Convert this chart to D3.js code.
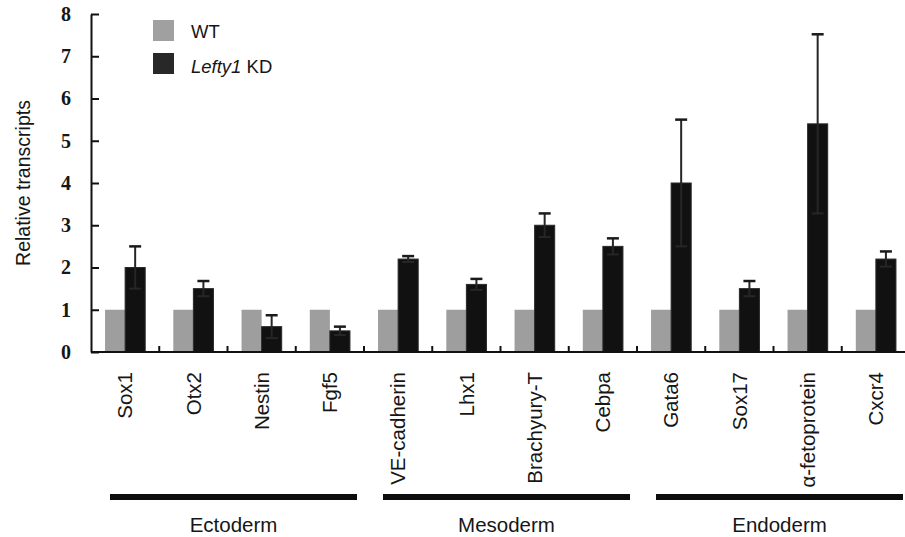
<!DOCTYPE html>
<html>
<head>
<meta charset="utf-8">
<script src="https://cdn.jsdelivr.net/npm/d3@7"></script>
<style>
  body { margin: 0; background: #fff; }
  text { font-family: Arial, "Liberation Sans", sans-serif; fill: #161616; }
</style>
</head>
<body>
<div class="chart"></div>
<script>
// data
const genes = ['Sox1', 'Otx2', 'Nestin', 'Fgf5', 'VE-cadherin', 'Lhx1', 'Brachyury-T', 'Cebpa',
               'Gata6', 'Sox17', 'α-fetoprotein', 'Cxcr4'];
const wt = [1, 1, 1, 1, 1, 1, 1, 1, 1, 1, 1, 1];
const kd = [2.0, 1.5, 0.6, 0.5, 2.2, 1.6, 3.0, 2.5, 4.0, 1.5, 5.4, 2.2];
const kdErr = [0.5, 0.18, 0.27, 0.1, 0.07, 0.13, 0.28, 0.19, 1.5, 0.18, 2.12, 0.18];
const yTicks = [0, 1, 2, 3, 4, 5, 6, 7, 8];
const germLayers = [{ name: 'Ectoderm', first: 'Sox1', last: 'Fgf5' },
                    { name: 'Mesoderm', first: 'VE-cadherin', last: 'Cebpa' },
                    { name: 'Endoderm', first: 'Gata6', last: 'Cxcr4' }];
const series = [{ key: 'WT', label: 'WT', color: '#9e9e9e', swatch: '#a0a0a0' },
                { key: 'KD', label: 'KD', color: '#111111', swatch: '#282828' }];

const width = 905, height = 537;

const svg = d3.select('.chart').append('svg')
  .attr('width', width)
  .attr('height', height);

const x = d3.scaleBand().domain(genes).range([91, 910]).paddingInner(0).paddingOuter(0);
const xSub = d3.scaleBand().domain(series.map(s => s.key)).range([0, x.bandwidth()]).paddingOuter(0.7);
const y = d3.scaleLinear().domain([0, 8]).range([352, 14]);

// y axis, ticks pointing into the plot
const yAxis = svg.append('g')
  .attr('transform', 'translate(91,0)')
  .call(d3.axisLeft(y).tickValues(yTicks).tickSizeInner(-8).tickSizeOuter(0).tickPadding(20));
yAxis.select('.domain').attr('stroke', '#111').attr('stroke-width', 2);
yAxis.selectAll('.tick line').attr('stroke', '#111').attr('stroke-width', 2);
yAxis.selectAll('.tick text')
  .style('font-family', '"Liberation Serif", "Times New Roman", serif')
  .style('font-weight', 'bold')
  .style('font-size', '20px')
  .attr('fill', '#1a1a1a');

svg.append('text')
  .attr('transform', 'translate(25,183) rotate(-90)')
  .attr('text-anchor', 'middle')
  .attr('dominant-baseline', 'middle')
  .style('font-size', '19.5px')
  .text('Relative transcripts');

// bars
const groups = svg.append('g').selectAll('g')
  .data(genes)
  .join('g')
  .attr('transform', d => `translate(${x(d)},0)`);

groups.append('rect')
  .attr('x', xSub('WT'))
  .attr('y', (d, i) => y(wt[i]))
  .attr('width', xSub.bandwidth())
  .attr('height', (d, i) => y(0) - y(wt[i]))
  .attr('fill', series[0].color);

groups.append('rect')
  .attr('x', xSub('KD'))
  .attr('y', (d, i) => y(kd[i]))
  .attr('width', xSub.bandwidth())
  .attr('height', (d, i) => y(0) - y(kd[i]))
  .attr('fill', series[1].color)
  .attr('stroke', '#2a2a2a')
  .attr('stroke-width', 1);

// error bars on the knock-down series
const cx = xSub('KD') + xSub.bandwidth() / 2;
groups.append('line')
  .attr('x1', cx).attr('x2', cx)
  .attr('y1', (d, i) => y(kd[i] + kdErr[i]))
  .attr('y2', (d, i) => y(kd[i] - kdErr[i]))
  .attr('stroke', '#262626').attr('stroke-width', 2);
groups.append('line')
  .attr('x1', cx - 6).attr('x2', cx + 6)
  .attr('y1', (d, i) => y(kd[i] + kdErr[i]))
  .attr('y2', (d, i) => y(kd[i] + kdErr[i]))
  .attr('stroke', '#1a1a1a').attr('stroke-width', 2.5);
groups.append('line')
  .attr('x1', cx - 6).attr('x2', cx + 6)
  .attr('y1', (d, i) => y(kd[i] - kdErr[i]))
  .attr('y2', (d, i) => y(kd[i] - kdErr[i]))
  .attr('stroke', '#262626').attr('stroke-width', 2);

// x axis line and small separator ticks
svg.append('line')
  .attr('x1', 91).attr('x2', width)
  .attr('y1', y(0)).attr('y2', y(0))
  .attr('stroke', '#111').attr('stroke-width', 2);
svg.append('g').selectAll('line')
  .data(genes.slice(1))
  .join('line')
  .attr('x1', d => x(d)).attr('x2', d => x(d))
  .attr('y1', y(0)).attr('y2', y(0) - 6)
  .attr('stroke', '#111').attr('stroke-width', 2);

// rotated gene names
svg.append('g').selectAll('text')
  .data(genes)
  .join('text')
  .attr('transform', d => `translate(${x(d) + x.bandwidth() / 2},372) rotate(-90)`)
  .attr('text-anchor', 'end')
  .attr('dy', '0.35em')
  .style('font-size', '20.5px')
  .text(d => d);

// germ layer brackets
const layer = svg.append('g').selectAll('g')
  .data(germLayers)
  .join('g');
layer.append('line')
  .attr('x1', d => x(d.first) + 19)
  .attr('x2', d => x(d.last) + x.bandwidth() - 7)
  .attr('y1', 497).attr('y2', 497)
  .attr('stroke', '#0d0d0d').attr('stroke-width', 6);
layer.append('text')
  .attr('x', d => (x(d.first) + 19 + x(d.last) + x.bandwidth() - 7) / 2)
  .attr('y', 532)
  .attr('text-anchor', 'middle')
  .style('font-size', '20.5px')
  .text(d => d.name);

// legend
const legend = svg.append('g');
series.forEach((s, i) => {
  legend.append('rect')
    .attr('x', 153).attr('y', 20 + i * 33)
    .attr('width', 21).attr('height', 21)
    .attr('fill', s.swatch);
  const t = legend.append('text')
    .attr('x', 191).attr('y', 38 + i * 35)
    .style('font-size', '18.5px');
  if (s.key === 'KD') {
    t.append('tspan').style('font-style', 'italic').text('Lefty1');
    t.append('tspan').text(' ' + s.label);
  } else {
    t.text(s.label);
  }
});
</script>
</body>
</html>
